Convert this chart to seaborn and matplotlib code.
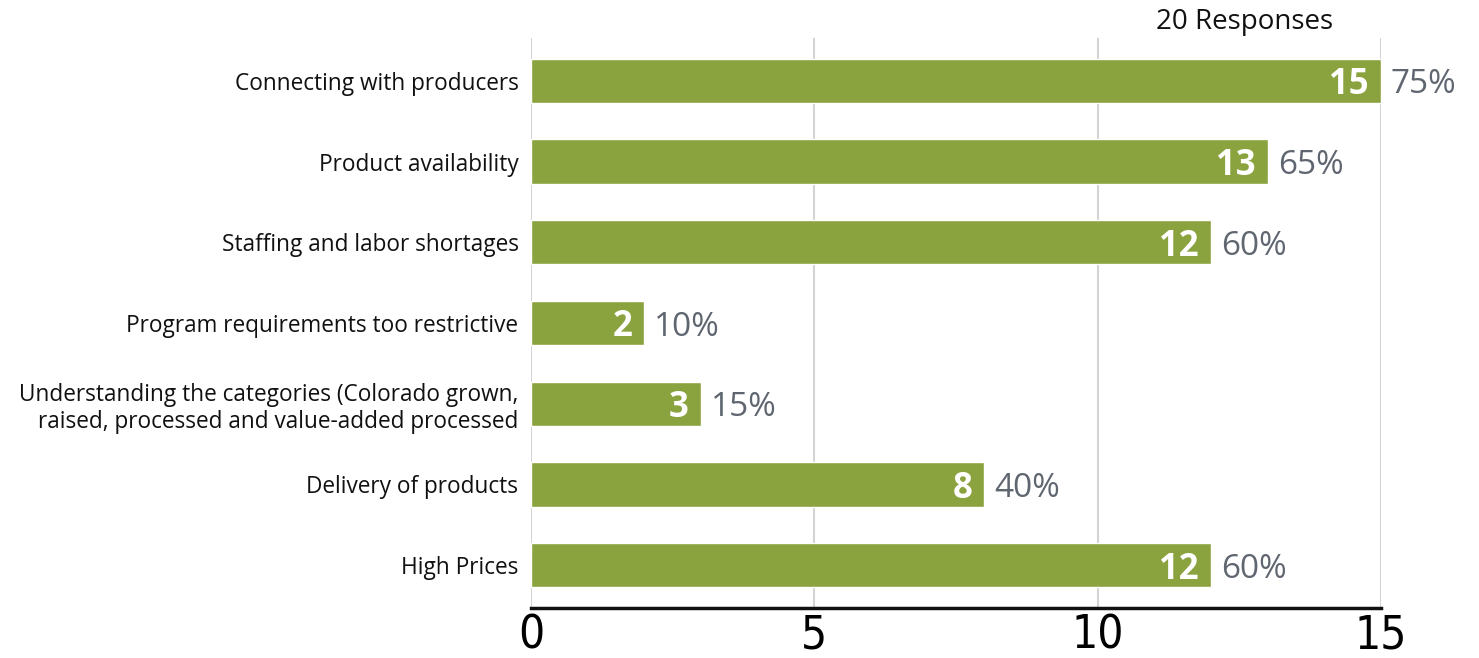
import matplotlib
matplotlib.use("Agg")
import matplotlib.pyplot as plt
import seaborn as sns
import pandas as pd

categories = [
    "Connecting with producers",
    "Product availability",
    "Staffing and labor shortages",
    "Program requirements too restrictive",
    "Understanding the categories (Colorado grown,\nraised, processed and value-added processed",
    "Delivery of products",
    "High Prices",
]
counts = [15, 13, 12, 2, 3, 8, 12]
percents = ["75%", "65%", "60%", "10%", "15%", "40%", "60%"]
x_ticks = [0, 5, 10, 15]
total_label = "20 Responses"

sns.set_theme(style="white")
plt.rcParams['font.family'] = ['Open Sans', 'DejaVu Sans']

df = pd.DataFrame({"category": categories, "count": counts})

fig = plt.figure(figsize=(14.79, 6.58), dpi=100)
ax = fig.add_axes([531/1479, 1-608/658, (1381-531)/1479, (608-38)/658])

bar_color = "#8BA33F"
sns.barplot(data=df, x="count", y="category", color=bar_color, width=0.55,
            saturation=1, ax=ax, zorder=3)

ax.set_xlim(0, 15)
ax.set_ylim(len(categories) - 0.47, -0.53)
ax.set_xticks(x_ticks)
ax.set_xticklabels([str(t) for t in x_ticks], family='DejaVu Sans',
                   fontstretch='condensed', fontsize=33, color='black')
ax.tick_params(axis='x', length=0, pad=4)
ax.tick_params(axis='y', length=0, pad=9)
for lbl in ax.get_yticklabels():
    lbl.set_fontsize(16.3)
    lbl.set_color("#111111")
    lbl.set_horizontalalignment('right')
    lbl.set_multialignment('right')
ax.set_xlabel("")
ax.set_ylabel("")

ax.grid(axis='x', color="#d4d4d4", linewidth=1.5, zorder=0)
ax.set_axisbelow(True)
for s in ["top", "right", "left"]:
    ax.spines[s].set_visible(False)
ax.spines["bottom"].set_color("#111111")
ax.spines["bottom"].set_linewidth(2.5)

for i, (c, p) in enumerate(zip(counts, percents)):
    ax.annotate(str(c), xy=(c, i), xytext=(-12, 0), textcoords='offset pixels',
                ha='right', va='center_baseline', color='white', fontsize=25,
                fontweight='bold', zorder=5)
    ax.annotate(p, xy=(c, i), xytext=(10, 0), textcoords='offset pixels',
                ha='left', va='center_baseline', color='#5f6670', fontsize=24, zorder=5)

fig.text(1245/1479, 1-22/658, total_label, ha='center', va='center',
         fontsize=20, color='#111111')

fig.savefig("out.png", dpi=100)
